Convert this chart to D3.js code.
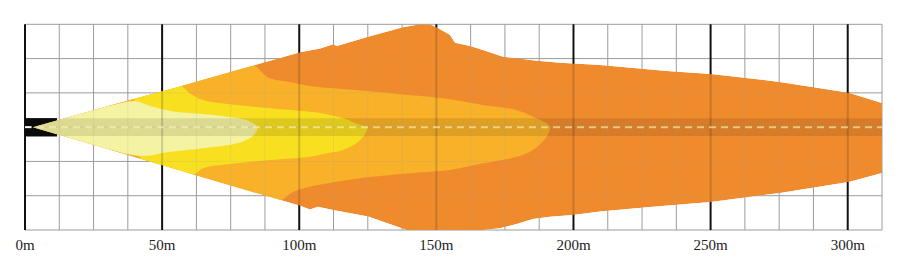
<!DOCTYPE html>
<html>
<head>
<meta charset="utf-8">
<script src="https://cdn.jsdelivr.net/npm/d3@7"></script>
<style>
  body { margin: 0; background: #fff; }
</style>
</head>
<body>
<div id="container"></div>
<script>
// distances in metres, lateral offset in metres (+ up, - down)
const xTicks = [0, 50, 100, 150, 200, 250, 300]
const tickLabels = ["0m", "50m", "100m", "150m", "200m", "250m", "300m"]

const outerZone = [
    [2.9, 0], [31.6, 8.1], [54.7, 14.4], [100.3, 27.3], [107.6, 28.7], [112.4, 30.2], [113.7, 29.6],
    [125.1, 33.0], [137.8, 36.4], [144.0, 37.5], [147.7, 37.4], [150.1, 36.4], [155.0, 33.6],
    [156.8, 30.8], [162.3, 29.6], [167.0, 28.1], [174.3, 25.7], [179.3, 25.1], [186.6, 24.2],
    [195.1, 23.5], [203.5, 23.0], [209.7, 22.7], [234.1, 20.5], [250.1, 19.4], [275.3, 16.5],
    [300.4, 12.5], [312.5, 8.8],
    [312.5, -16.7], [300.4, -20.0], [275.3, -24.0], [250.1, -27.3], [227.9, -29.1], [209.7, -30.8],
    [199.8, -32.0], [191.4, -32.7], [185.2, -33.5], [179.3, -35.3], [173.2, -36.9], [167.0, -37.5],
    [139.2, -37.5], [125.1, -32.6], [112.3, -30.2], [106.8, -29.0], [103.9, -30.0], [100.3, -28.7],
    [62.6, -17.6], [54.7, -15.3], [30.4, -8.1]
]

const amberZone = [
    [2.9, 0], [54.7, 14.4], [83.3, 22.4], [86.8, 19.6], [89.3, 17.8], [95.4, 16.6], [103.9, 15.0],
    [116.0, 13.9], [134.2, 12.3], [152.4, 10.5], [167.0, 8.1], [179.4, 6.2], [185.2, 3.8],
    [190.2, 1.4], [191.5, 0],
    [190.2, -3.5], [185.2, -8.3], [179.3, -10.8], [167.0, -13.2], [155.0, -15.6], [140.4, -16.8],
    [122.2, -18.6], [110.0, -20.5], [103.9, -21.7], [97.7, -23.6], [91.9, -27.0], [54.7, -15.3]
]

const yellowZone = [
    [40.1, 10.4], [56.5, 15.0], [60.2, 12.3], [64.9, 9.9], [77.2, 8.1], [89.3, 6.9], [103.9, 5.6],
    [110.0, 4.7], [116.0, 3.2], [122.2, 0.8], [124.8, 0],
    [122.2, -4.7], [116.0, -8.3], [110.0, -9.5], [103.9, -10.8], [89.3, -12.0], [77.2, -13.2],
    [64.9, -15.0], [61.3, -17.2], [42.5, -11.7]
]

const paleZone = [
    [2.9, 0], [31.7, 8.0], [40.1, 9.4], [46.2, 7.5], [54.7, 5.6], [64.9, 4.8], [77.2, 3.3],
    [82.0, 2.1], [84.7, 0],
    [83.1, -3.2], [77.2, -5.9], [64.9, -7.7], [52.9, -9.0], [42.6, -10.5], [29.2, -7.8]
]

const zoneColors = ["#ef8b2e", "#f8b12a", "#f8e022", "#f5f3a2"]

initializeChart()

function initializeChart() {

    const width = 907
    const height = 270

    let svg = d3
        .select("#container")
        .append("svg")
        .attr("width", width)
        .attr("height", height)

    // SCALES
    const xScale = d3.scaleLinear().domain([0, 312.5]).range([25, 882])
    const yScale = d3.scaleLinear().domain([-37.5, 37.5]).range([230, 24.3])

    const gridX = d3.range(0, 312.5 + 0.01, 12.5)
    const gridY = d3.range(-37.5, 37.5 + 0.01, 12.5)

    // GRID
    drawGrid(svg.append("g"), gridX, gridY, xScale, yScale)

    // LAMP
    svg.append("rect")
        .attr("x", xScale(0))
        .attr("y", yScale(3.3))
        .attr("width", xScale(11.7) - xScale(0))
        .attr("height", yScale(-3.4) - yScale(3.3))
        .attr("fill", "#0a0a0a")

    // BEAM
    let area = d3.line()
        .x(d => xScale(d[0]))
        .y(d => yScale(d[1]))
        .curve(d3.curveLinearClosed)

    let smooth = d3.line()
        .x(d => xScale(d[0]))
        .y(d => yScale(d[1]))
        .curve(d3.curveCatmullRomClosed.alpha(0.5))

    svg.append("clipPath")
        .attr("id", "beam-clip")
        .append("path")
        .attr("d", area(outerZone))

    let beam = svg.append("g").attr("clip-path", "url(#beam-clip)")

    beam.append("path").attr("d", area(outerZone)).attr("fill", zoneColors[0])
    beam.append("path").attr("d", smooth(amberZone)).attr("fill", zoneColors[1])
    beam.append("path").attr("d", smooth(yellowZone)).attr("fill", zoneColors[2])
    beam.append("path").attr("d", smooth(paleZone)).attr("fill", zoneColors[3])

    // darker centre band
    beam.append("rect")
        .attr("x", xScale(0))
        .attr("y", yScale(3.25))
        .attr("width", xScale(312.5) - xScale(0))
        .attr("height", yScale(-3.25) - yScale(3.25))
        .attr("fill", "#000")
        .attr("opacity", 0.1)

    // grid shows faintly through the beam
    let faint = beam.append("g").attr("opacity", 0.18)
    drawGrid(faint, gridX, gridY, xScale, yScale)

    // dashed centre line
    beam.append("line")
        .attr("x1", xScale(0))
        .attr("x2", xScale(312.5))
        .attr("y1", yScale(0))
        .attr("y2", yScale(0))
        .attr("stroke", "#fff6b8")
        .attr("stroke-width", 2)
        .attr("stroke-dasharray", "7,5")
        .attr("opacity", 0.6)

    svg.append("line")
        .attr("x1", xScale(0))
        .attr("x2", xScale(2.4))
        .attr("y1", yScale(0))
        .attr("y2", yScale(0))
        .attr("stroke", "#fff")
        .attr("stroke-width", 2)

    // LABELS
    svg.append("g")
        .selectAll("text")
        .data(xTicks)
        .enter()
        .append("text")
        .attr("x", d => xScale(d))
        .attr("y", 250)
        .attr("text-anchor", "middle")
        .style("font-family", "'Liberation Serif', 'Times New Roman', serif")
        .style("font-size", "15px")
        .attr("fill", "#222")
        .text((d, i) => tickLabels[i])
}

function drawGrid(g, gridX, gridY, xScale, yScale) {
    g.selectAll(".h")
        .data(gridY)
        .enter()
        .append("line")
        .attr("x1", xScale(0))
        .attr("x2", xScale(312.5))
        .attr("y1", d => yScale(d))
        .attr("y2", d => yScale(d))
        .attr("stroke", "#9c9c9c")
        .attr("stroke-width", 1)

    g.selectAll(".v")
        .data(gridX)
        .enter()
        .append("line")
        .attr("x1", d => xScale(d))
        .attr("x2", d => xScale(d))
        .attr("y1", yScale(37.5))
        .attr("y2", yScale(-37.5))
        .attr("stroke", d => d % 50 == 0 ? "#111" : "#9c9c9c")
        .attr("stroke-width", d => d % 50 == 0 ? 2 : 1)
}
</script>
</body>
</html>
